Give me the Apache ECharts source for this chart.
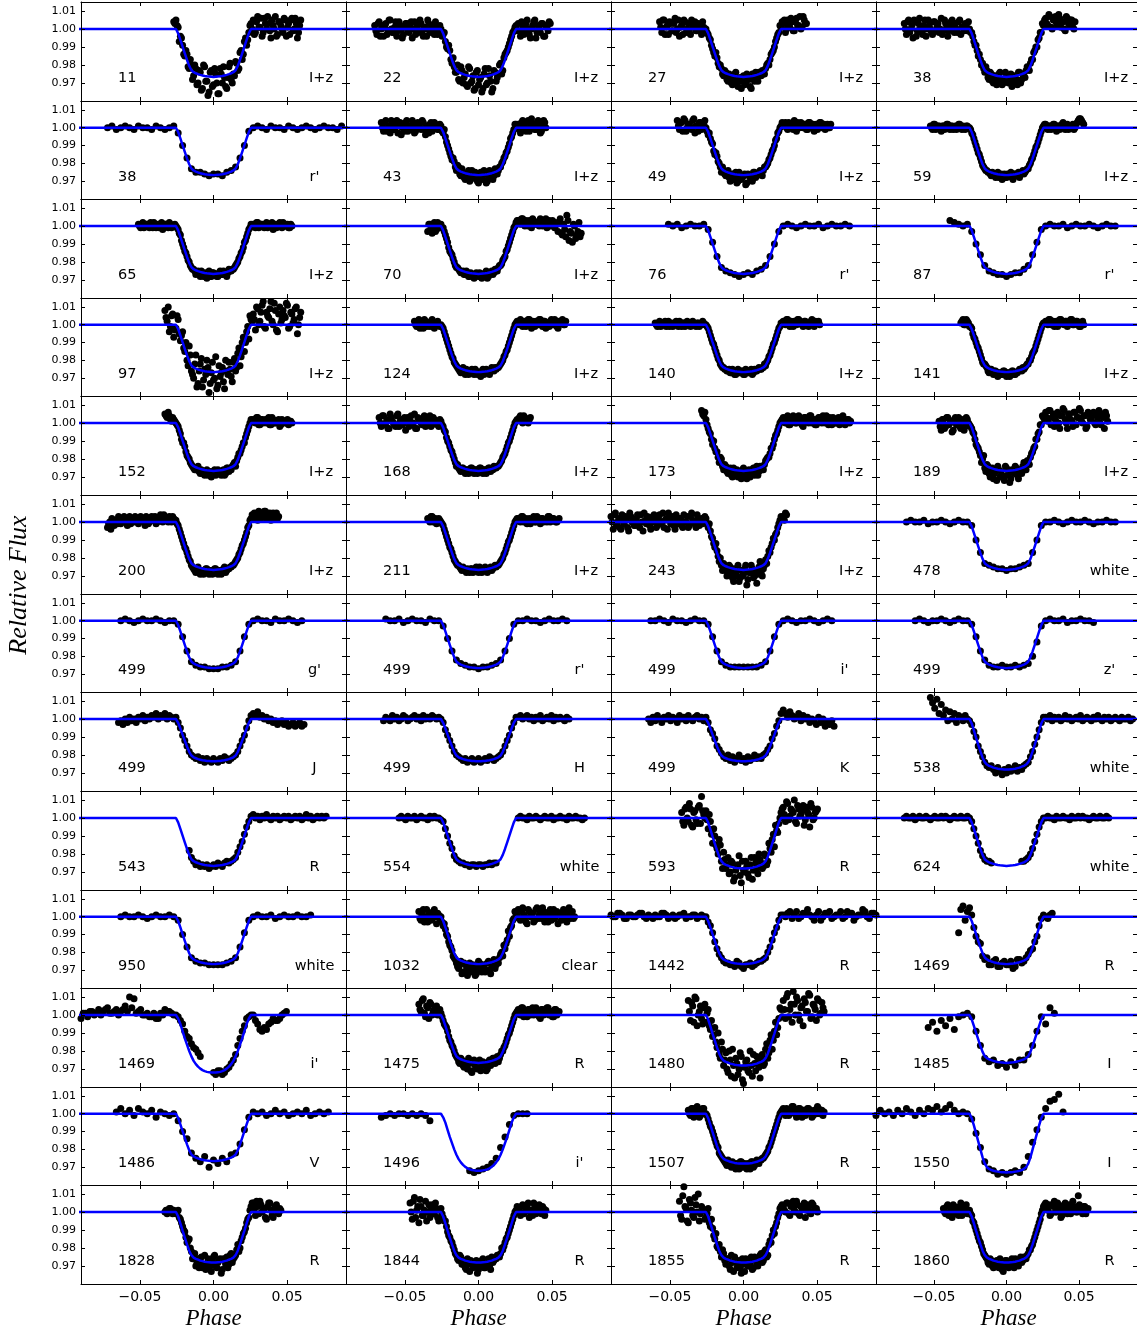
<!DOCTYPE html>
<html>
<head>
<meta charset="utf-8">
<script src="https://cdn.jsdelivr.net/npm/echarts@6/dist/echarts.min.js"></script>
<style>
  html, body { margin: 0; padding: 0; background: #fff; }
  #chart { width: 1137px; height: 1333px; }
</style>
</head>
<body>
<div id="chart"></div>
<script>
// Transit light curves, 13 rows x 4 columns, phase-folded.
const epochs = [11, 22, 27, 38, 38, 43, 49, 59, 65, 70, 76, 87, 97, 124, 140, 141,
  152, 168, 173, 189, 200, 211, 243, 478, 499, 499, 499, 499, 499, 499, 499, 538,
  543, 554, 593, 624, 950, 1032, 1442, 1469, 1469, 1475, 1480, 1485,
  1486, 1496, 1507, 1550, 1828, 1844, 1855, 1860];

const filters = ['I+z', 'I+z', 'I+z', 'I+z', "r'", 'I+z', 'I+z', 'I+z', 'I+z', 'I+z', "r'", "r'",
  'I+z', 'I+z', 'I+z', 'I+z', 'I+z', 'I+z', 'I+z', 'I+z', 'I+z', 'I+z', 'I+z', 'white',
  "g'", "r'", "i'", "z'", 'J', 'H', 'K', 'white', 'R', 'white', 'R', 'white',
  'white', 'clear', 'R', 'R', "i'", 'R', 'R', 'I', 'V', "i'", 'R', 'I', 'R', 'R', 'R', 'R'];

// sampling step in phase for each light curve
const phaseStep = [
  0.0015, 0.0015, 0.0015, 0.0015,
  0.003, 0.0015, 0.0015, 0.0015,
  0.0015, 0.0015, 0.003, 0.003,
  0.0015, 0.0015, 0.0015, 0.0015,
  0.0015, 0.0015, 0.0015, 0.0015,
  0.0015, 0.0015, 0.0015, 0.003,
  0.003, 0.003, 0.003, 0.003,
  0.0015, 0.0015, 0.0015, 0.0015,
  0.0015, 0.0015, 0.0015, 0.0015,
  0.003, 0.0015, 0.003, 0.003,
  0.003, 0.0015, 0.0015, 0.003,
  0.003, 0.003, 0.0015, 0.003,
  0.0015, 0.0015, 0.0015, 0.0015];

// which fitted transit model is drawn in each panel
const modelKey = [
  'A', 'A', 'A', 'A', 'A', 'A', 'A', 'A', 'A', 'A', 'A', 'A', 'A', 'A', 'A', 'A',
  'A', 'A', 'A', 'A', 'A', 'A', 'A', 'A', 'A', 'A', 'A', 'A', 'C', 'C', 'C', 'B',
  'A', 'A', 'B', 'A', 'A', 'A', 'A', 'A', 'D', 'A', 'B', 'A', 'A', 'D', 'B', 'E',
  'B', 'B', 'B', 'B'];

// Relative flux minus one, in parts per thousand (null = no exposure).
// fluxBefore ends at phase -0.027, fluxDuring is centred on phase 0, fluxAfter starts at +0.027.
const fluxBefore = [
  [4],
  [2,-3,4,0,-4,3,-1,5,-2,1,-4,4,0,-3,3,-1,2,-5,4,1,-2,3,-4,0,5,-2,2,-3,1,-1],
  [4,-2,5,1,-3,3,-1,6,0,-4,2,5,-2,3,-3,1,4,-1,2,-3,1],
  [3,-3,5,0,-5,4,-1,6,-2,2,-4,5,0,-3,4,1,-2,6,-1,3,-4,2,5,-2,0,4,-3,1,3,-1],
  [0,1,-1,0,1,0,-1,1,0,0,-1,1,0,-1,0,1],
  [3,-2,4,0,-3,2,-1,4,1,-4,2,3,-2,0,4,-3,1,2,-1,3,-4,0,2,-2,3,1,-1],
  [4,-1,3,5,-2,2,0,4,-3,1,3,-1,2],
  [1,-1,2,0,1,-2,1,0,2,-1,1,0,-1,2,0,1,-1,1],
  [1,-1,2,0,1,-1,0,2,-1,1,0,-2,1,0,2,-1,0],
  [-3,1,-4,2,-2,0],
  [1,0,1,-1,0,1,0,0,1],
  [3,2,1,0,1],
  [8,2,-4,5,-7],
  [2,-1,3,0,-2,2,1,-1,3,-2,1,0],
  [1,-1,2,0,1,-1,2,0,-1,1,0,2,-1,1,0,1,-1,2,0,1,-1,0,1],
  [1,3,0,2],
  [5,3,4,1,2],
  [3,-2,4,0,-3,5,1,-1,4,-2,2,0,-4,3,1,-1,5,-3,2,0,3,-2,1,4,-1,2,0,-2],
  [7,4],
  [1,-4,2,-2,3,0,-5,2,-1,3,-3,1,-2,2],
  [-3,0,2,-2,1,3,-1,2,0,-2,3,1,0,2,-1,3,1,-2,2,0,3,1,-1,2,4,0,2,1,3,0,2],
  [2,0,3,1,-1,2],
  [3,-4,5,0,-3,4,-1,2,-5,3,1,-2,4,-3,0,5,-1,2,-4,3,1,-2,4,0,-3,2,5,-1,3,-4,1,2,-2,4,0,-3,3,1,-1,4,-2,2,0],
  [0,1,0,0,1,-1,0,0,1,0,-1,0,1,0,0],
  [0,1,0,-1,0,1,0,0,1,0,-1,0,0],
  [1,0,0,1,-1,0,1,0,0,-1,1,0,0],
  [0,0,1,0,-1,1,0,0,-1,0,1,0,0],
  [0,1,0,-1,0,0,1,0,-1,0,1,0,0],
  [-2,-1,-3,0,-2,1,-1,0,-2,1,0,2,-1,1,0,2,1,3,0,2,1,3,0,2,1,0],
  [-1,1,0,-1,2,0,1,-1,0,2,1,-1,0,1,2,0,1,-1,2,0,1,0,2,1,0,1],
  [0,-2,1,-1,2,0,-2,1,0,2,-1,1,0,-2,2,0,1,-1,2,0,-1,1,2,0,1,-1],
  [12,9,6,11,3,8,2,5,-1,4,0,3,-2,2,1,-1,2,0],
  [],
  [0,1,0,-1,1,0,0,1,-1,0,1,0,0,-1,1,0,1,0,0],
  [3,-4,6,-2,5,-5,4,-3,7,12,2],
  [0,1,0,0,1,-1,0,1,0,0,1,0,-1,0,1,0,0,1,0,1,0,-1,0,1,0,0,1,0,0,1],
  [0,1,0,0,1,0,-1,0,1,0,0,1,0],
  [3,-2,4,0,-3,2,-1,4,-4,1],
  [1,0,2,-1,1,0,1,2,-1,0,1,0,2,-1,1,0,1,-1,0,1,0,0],
  [-9,6,3],
  [-2,1,2,0,3,2,4,1,3,2,5,10,9,2,0,1,-1,-2,1,3,2,0],
  [6,2,9,-1,4,7,0,3,5,1],
  [8,-3,5,10,-6,2,-2,4],
  [-7,-4,-9,-3,-6,-2,-8,-1,0,1],
  [1,3,0,2,-1,3,1,0,2,-2,1,0,-1,0],
  [-2,-1,0,-1,0,0,-1,0,-1,0,-1,-4,null,null],
  [2,-1,3,0,4,-2,1,3],
  [-1,2,0,1,-1,2,0,3,1,-1,2,0,3,2,4,1,3,5,2,0,1,0],
  [0,-1,2,0,1],
  [5,-4,8,1,-6,3,-2,6,0,-3,4,-1,2,-5],
  [6,-4,14,2,-6,5,-2,8,0,-5,3,1],
  [2,-1,4,0,-3,3,1,-2,5,0,2,-1]
];

const fluxDuring = [
  [5,1,-4,-9,-15,-14,-22,-20,-26,-22,-30,-24,-33,-21,-29,-35,-23,-31,-25,-36,-22,-30,-27,-33,-21,-28,-25,-18,-23,-13,-17,-7,-9,-2,3],
  [0,-3,-7,-11,-12,-19,-21,-24,-28,-21,-30,-25,-32,-22,-29,-34,-24,-31,-27,-33,-22,-30,-26,-35,-23,-29,-25,-19,-23,-14,-12,-8,-4,-1,2],
  [0,-3,-6,-11,-15,-16,-21,-22,-26,-24,-29,-27,-31,-25,-30,-28,-33,-26,-30,-27,-32,-25,-29,-27,-24,-26,-25,-22,-19,-17,-13,-10,-5,-2,1],
  [0,-2,-7,-9,-15,-17,-19,-24,-23,-28,-25,-30,-27,-29,-24,-31,-28,-26,-30,-25,-29,-27,-31,-24,-28,-26,-23,-22,-19,-17,-12,-10,-5,-2,2],
  [-3,-10,-17,-23,-25,-25,-26,-27,-26,-26,-27,-25,-24,-22,-17,-10,-2],
  [1,-3,-5,-10,-14,-18,-19,-24,-22,-27,-25,-29,-26,-30,-24,-28,-27,-31,-25,-29,-26,-30,-24,-28,-27,-25,-24,-22,-19,-16,-13,-9,-5,-1,2],
  [0,-4,-6,-9,-15,-16,-20,-25,-24,-27,-24,-30,-26,-28,-31,-25,-29,-27,-32,-26,-28,-30,-25,-27,-26,-25,-24,-22,-20,-17,-13,-10,-6,-2,1],
  [0,-3,-6,-10,-14,-17,-21,-23,-24,-25,-27,-26,-28,-25,-27,-29,-26,-28,-27,-25,-29,-26,-27,-28,-25,-26,-24,-23,-20,-17,-13,-10,-6,-2,1],
  [0,-2,-5,-10,-14,-17,-20,-23,-24,-27,-25,-28,-26,-27,-29,-25,-28,-26,-27,-28,-25,-27,-26,-28,-24,-25,-24,-22,-20,-17,-14,-9,-6,-2,1],
  [1,-1,-5,-9,-14,-16,-20,-23,-24,-26,-25,-27,-26,-28,-27,-29,-26,-28,-27,-28,-26,-29,-27,-25,-26,-25,-23,-22,-19,-17,-13,-9,-5,-1,2],
  [-2,-9,-17,-23,-25,-26,-27,-28,-27,-26,-27,-25,-24,-22,-17,-10,-3],
  [-3,-10,-16,-22,-25,-26,-27,-27,-28,-27,-26,-26,-24,-22,-16,-9,-2],
  [-2,3,-9,-4,-15,-20,-12,-26,-30,-17,-33,-22,-35,-25,-20,-38,-27,-31,-18,-34,-29,-24,-36,-26,-21,-29,-21,-26,-16,-23,-10,-15,-4,-8,3],
  [0,-2,-6,-10,-14,-18,-21,-23,-25,-27,-24,-28,-26,-27,-25,-28,-26,-27,-29,-25,-27,-26,-28,-24,-26,-25,-24,-22,-20,-17,-14,-10,-6,-2,1],
  [0,-2,-6,-10,-13,-17,-20,-23,-24,-25,-26,-27,-25,-28,-26,-27,-26,-28,-25,-27,-26,-28,-25,-26,-24,-25,-24,-23,-20,-17,-13,-10,-6,-2,1],
  [-1,-2,-7,-10,-13,-17,-21,-22,-24,-27,-25,-28,-26,-29,-27,-28,-26,-29,-27,-28,-26,-28,-27,-25,-26,-25,-23,-22,-20,-16,-14,-10,-6,-2,1],
  [0,-2,-6,-11,-13,-18,-20,-23,-25,-26,-24,-28,-27,-29,-26,-28,-30,-27,-29,-26,-28,-27,-29,-25,-27,-26,-23,-24,-19,-17,-13,-11,-6,-2,2],
  [1,-2,-5,-10,-13,-16,-20,-24,-25,-27,-25,-28,-26,-27,-25,-28,-26,-27,-25,-28,-26,-27,-25,-26,-24,-25,-24,-22,-19,-17,-13,-10,-6,-2,1],
  [2,-3,-6,-12,-14,-16,-22,-20,-26,-24,-28,-25,-30,-27,-26,-29,-31,-25,-28,-27,-30,-26,-29,-24,-27,-25,-26,-21,-19,-17,-14,-9,-6,-2,1],
  [-1,-3,-6,-12,-14,-18,-20,-25,-23,-28,-26,-31,-27,-24,-30,-29,-32,-25,-28,-31,-27,-24,-29,-26,-28,-22,-26,-21,-19,-16,-13,-9,-5,-1,3],
  [1,-2,-6,-10,-14,-17,-21,-24,-26,-28,-25,-29,-27,-28,-26,-29,-27,-28,-26,-29,-27,-28,-25,-27,-26,-25,-24,-22,-20,-17,-13,-10,-6,-2,2],
  [0,-2,-6,-10,-14,-17,-21,-23,-24,-26,-25,-27,-26,-28,-26,-27,-25,-28,-26,-27,-25,-28,-26,-27,-25,-25,-24,-22,-20,-17,-13,-10,-6,-2,1],
  [2,-3,-5,-9,-14,-16,-22,-24,-23,-27,-29,-25,-31,-26,-30,-33,-27,-29,-24,-32,-28,-26,-30,-34,-25,-28,-26,-21,-19,-17,-12,-10,-6,-1,3],
  [-2,-10,-17,-23,-24,-25,-26,-26,-27,-26,-26,-25,-24,-23,-17,-10,-2],
  [-2,-9,-17,-23,-25,-26,-26,-27,-27,-27,-26,-26,-25,-23,-17,-9,-2],
  [-3,-10,-17,-22,-24,-25,-26,-26,-27,-26,-26,-25,-24,-22,-17,-10,-2],
  [-2,-9,-17,-23,-25,-26,-26,-26,-26,-26,-26,-26,-25,-23,-17,-9,-2],
  [-2,-9,-17,-22,-25,-26,-26,-25,-26,-26,-25,-26,-25,-24,-20,-12,-3],
  [1,-2,-5,-9,-12,-15,-18,-20,-21,-22,-21,-23,-22,-24,-22,-23,-24,-22,-23,-24,-22,-23,-21,-22,-23,-22,-21,-20,-18,-15,-12,-9,-5,-1,2],
  [0,-2,-6,-9,-12,-15,-18,-20,-21,-22,-23,-22,-24,-23,-22,-24,-23,-22,-24,-23,-22,-23,-21,-22,-23,-22,-21,-20,-18,-15,-12,-9,-5,-2,1],
  [1,-2,-6,-8,-11,-15,-17,-19,-21,-22,-20,-23,-21,-24,-22,-20,-23,-22,-24,-21,-23,-22,-20,-22,-21,-22,-20,-19,-17,-15,-11,-8,-4,-1,3],
  [-1,-3,-7,-10,-15,-18,-21,-24,-26,-27,-26,-28,-30,-27,-29,-31,-28,-30,-27,-29,-28,-26,-29,-27,-28,-26,-25,-24,-21,-18,-14,-10,-6,-2,1],
  [null,null,null,null,null,null,-18,-22,-24,-26,-25,-27,-26,-27,-26,-28,-27,-26,-27,-25,-26,-27,-25,-24,-25,-24,-23,-22,-19,-16,-13,-9,-5,-2,1],
  [-1,-2,-6,-10,-14,-17,-21,-23,-24,-25,-25,-26,-26,-27,-26,-26,-27,-26,-26,-27,-26,-26,-25,-26,-25,-25,null,null,null,null,null,null,null,null,null],
  [4,-6,-2,-14,-10,-17,-12,-24,-19,-28,-22,-30,-25,-33,-27,-21,-36,-29,-24,-31,-26,-34,-22,-28,-20,-25,-27,-21,-24,-17,-12,-16,-7,-3,3],
  [0,-2,-6,-10,-14,-18,-21,-23,-24,-24,-25,null,null,null,null,null,null,null,null,null,null,null,null,null,-24,-24,-23,-22,-20,-17,-13,-9,-5,-2,0],
  [-2,-10,-17,-23,-25,-26,-26,-27,-27,-27,-27,-26,-25,-23,-17,-9,-2],
  [0,-5,-7,-11,-16,-19,-23,-26,-29,-25,-31,-27,-33,-26,-30,-28,-32,-25,-29,-27,-31,-26,-30,-28,-24,-27,-26,-21,-22,-18,-13,-11,-5,-1,2],
  [-3,-9,-18,-23,-26,-27,-28,-26,-29,-27,-28,-26,-25,-23,-17,-9,-2],
  [1,-11,-15,-24,-27,-25,-28,-26,-27,-25,-28,-24,-25,-21,-18,-11,-1],
  [-1,-5,-12,-16,-19,-23,null,null,-32,-31,-33,-30,-27,-22,-13,-6,-1],
  [1,-3,-6,-9,-14,-17,-20,-23,-26,-24,-28,-26,-30,-27,-32,-25,-29,-27,-31,-26,-28,-30,-25,-27,-24,-25,-26,-22,-20,-17,-13,-10,-6,-2,1],
  [-4,3,-8,-12,-7,-18,-22,-15,-28,-21,-32,-25,-19,-35,-27,-30,-23,-38,-26,-31,-20,-34,-27,-23,-29,-24,-28,-19,-24,-14,-19,-9,-11,-2,3],
  [-1,-9,-17,-24,-26,-25,-28,-27,-29,-26,-28,-25,-25,-22,-17,-9,-1],
  [-4,-10,-14,-22,-25,-27,-24,-30,-26,-28,-25,-27,-23,-22,-17,-9,-2],
  [null,null,null,null,null,null,-32,-33,-32,-31,-30,-28,-25,-19,-13,-6,-1],
  [0,-3,-7,-10,-14,-18,-22,-24,-26,-28,-26,-29,-27,-30,-28,-31,-27,-29,-30,-28,-31,-27,-29,-26,-28,-26,-25,-23,-21,-18,-14,-10,-6,-2,1],
  [-3,-11,-19,-27,-31,-32,-34,-33,-34,-33,-32,-33,-30,-24,-16,-9,-2],
  [-1,1,-4,-8,-11,-17,-15,-22,-24,-30,-26,-28,-31,-24,-29,-27,-33,-25,-30,-28,-26,-32,-27,-25,-29,-23,-26,-24,-18,-20,-14,-11,-6,-3,3],
  [2,-3,-5,-11,-14,-17,-21,-24,-27,-25,-29,-31,-26,-33,-28,-30,-27,-32,-29,-26,-31,-28,-30,-25,-27,-26,-24,-23,-21,-17,-14,-10,-6,-2,1],
  [-3,2,-8,-9,-15,-19,-18,-25,-23,-29,-26,-32,-28,-25,-31,-27,-34,-29,-26,-30,-28,-32,-25,-29,-27,-23,-27,-21,-24,-16,-13,-12,-6,-1,3],
  [1,-2,-6,-10,-14,-17,-21,-24,-26,-29,-27,-31,-28,-30,-26,-32,-29,-27,-31,-28,-30,-26,-29,-27,-28,-25,-26,-23,-21,-18,-14,-10,-6,-1,3]
];

const fluxAfter = [
  [5,-2,7,1,-4,6,0,3,-5,2,7,-3,4,0,6,-4,3,5,-1,6,-5,2],
  [3,-4,2,-1,5,-3,0,4,-5,2,-2,3,-4,1,4],
  [3,-2,5,1,4,-1,6,2,0,7,3],
  [6,2,7,0,5,3,8,1,4,-1,6,2,5,0],
  [0,1,0,-1,1,0,0,-1,1,0,-1,0,1,0,-1,0,1,0,0,-1,1],
  [2,-3,4,0,3,-2,5,1,-1,4,-3,2,3],
  [1,3,-1,2,0,4,-2,1,3,0,2,-1,3,1,-2,2,0,3,1,-1,2,0],
  [2,-1,1,0,2,-2,1,0,3,-1,2,0,1,-1,2,4,5,3],
  [1,-1,2,0,1,-1,2,0,1,-2,1,0,2,-1,1,0,-1,1],
  [3,1,4,0,2,3,-1,3,1,2,4,0,2,-1,3,1,0,2,-3,4,-5,-2,6,-8,-4,1,-7,-3,-6],
  [0,1,0,-1,0,1,0,0,1,-1,0,1,0,0,1,0],
  [0,1,0,0,1,-1,0,1,0,0,1,0,-1,0,1,0,0],
  [6,-3,9,2,11,-1,7,4,13,0,8,-4,10,3,5,12,-2,7,1,9,-5,4],
  [1,3,-1,2,0,3,-2,1,2,0,3,-1,2,1,-1,3,0,2,-2,1,3,0],
  [2,0,3,-1,1,2,0,3,1,-1,2,0,1,3,-1,1,2],
  [2,0,3,1,-1,2,0,3,1,2,-1,1,3,0,2,1,-1,2],
  [2,0,3,-1,2,1,0,3,-1,2,0,1,-2,2,1,0,-1,1],
  [2,4,0,3,1,2],
  [3,0,4,-1,2,3,0,4,1,-2,3,1,4,0,2,-1,3,1,4,0,2,3,-1,2,0,3,1,4,-1,2,0],
  [6,1,7,3,-2,5,0,4,8,2,-3,5,1,6,-1,3,7,0,4,-2,5,2,6,-1,3,0,5,-3,4],
  [2,4,1,5,3,6,2,4,1,5,3,2],
  [2,0,3,1,-1,2,1,3,0,2,-1,2,1,0,3,1,2,0,1],
  [3,5],
  [0,0,1,0,-1,0,1,0,0,1,0,-1,0,0,1,0,0],
  [0,1,0,0,-1,1,0,0,1,0,-1,0],
  [0,0,1,0,0,-1,0,1,0,0,1,0],
  [0,1,0,-1,0,0,1,0,-1,0,1,0],
  [0,1,0,0,1,-1,0,0,1,0,0,-1],
  [3,2,4,1,2,0,1,-1,0,-2,-1,-3,-2,-1,-3,-2,-4,-3,-2,-4,-3,-2,-4,-3],
  [1,2,0,1,2,0,1,-1,1,0,2,-1,0,1,0,2,-1,1,0,1,0,-1,1,0],
  [5,3,1,4,2,0,1,3,-1,2,0,1,-2,0,-1,-3,1,-2,0,-4,-2,-3,-1,-4],
  [1,0,2,-1,1,0,1,-1,0,2,0,1,-1,0,1,0,2,-1,0,1,0,-1,1,0,2,0,-1,1,0,1,-1,0,1,0,-1,1,0,0,1,-1,0],
  [2,0,1,-1,1,0,2,0,-1,1,0,1,-1,0,1,0,1,-1,0,1,0,1,-1,0,2,0,1,-1,0,1,0,1,0,1],
  [0,1,0,0,-1,1,0,0,1,0,-1,0,1,0,0,1,-1,0,0,1,0,0,-1,1,0,0,1,0,0,-1,0],
  [6,-2,8,1,4,10,-3,5,2,7,-1,3,-5,6,0,4],
  [0,1,0,0,-1,1,0,0,1,0,0,-1,1,0,0,1,0,1,0,0,-1,0,1,0,0,1,0,0,1,0],
  [0,1,0,0,1,-1,0,1,0,0,1,0,0,1],
  [4,-2,5,0,-4,3,1,-3,4,-1,2,5,-3,0,3,-2,4,1,-4,2,0,3,-3,5,1,-1],
  [1,2,-1,3,0,2,1,-2,3,0,2,-1,1,3,0,2,-2,1,4,0,2,1],
  [0,1],
  [0,-5,-9,-8,-4,-3,-2,1],
  [3,0,4,1,-1,3,2,0,4,1,-2,3,1,4,0,2,-1,3,1],
  [8,-2,12,3,-4,6,10,0,4,-6,7,2,11,-1,5,-3,8,1,4],
  [-5,4,1],
  [1,0,1,-1,0,2,0,1,-1,0,1,0,2,-1,0,1,0,1],
  [0,0,0],
  [3,-1,2,0,4,1,-2,3,0,2,-1,3,1,-2,2,0,3,1,-1],
  [3,7,8,11,1],
  [5,-2,3,6,0,2,-4,5,1,-3,3,0,2],
  [2,-2,4,0,3,-3,1,5,-1,2,0,3,-2],
  [3,0,5,-2,4,1,6,-1,3,2,-3,4,0,5,1,2],
  [5,1,-2,4,6,0,3,-3,2,5,-1,4,1,3,0,9,2,-1,3,1]
];

// Interleaved exposures (taken half a step later) for the densely sampled light curves.
const extraPanel = [0, 1, 2, 3, 5, 6, 7, 8, 9, 12, 13, 14, 15, 16, 17, 18, 19, 20, 21, 22,
  34, 37, 39, 41, 42, 46, 48, 49, 50, 51, 38, 40];

const extraBefore = [
  [3],
  [-1,3,-4,2,1,-3,5,0,-2,4,-1,2,-5,1,3,-2,4,0,-3,2,5,-1,1,-4,3,0,-2,4,-3,2],
  [1,5,-3,2,4,-1,3,-2,5,1,-3,4,0,-2,5,2,-1,3,0,4,-2],
  [0,4,-2,2,5,-4,3,1,-3,5,0,2,-2,4,-1,3,0,-3,5,1,-1,4,0,3,-2,5,1,-1,2,4],
  [0,3,-2,1,4,-1,2,-3,3,0,-2,4,1,-1,2,-2,3,0,4,-1,1,-3,3,0,2,-1,2],
  [1,3,-2,4,0,2,-1,5,1,-2,3,0,4],
  [0,2,-1,1,0,1,-1,2,0,1,-1,1,0,2,-1,0,1,0],
  [0,1,-1,1,0,2,-1,1,0,-1,2,0,1,-1,1,0,1],
  [1,-2,0,-3,2,-1],
  [4,10,-1,6,-3],
  [0,2,-2,1,3,-1,0,2,-1,1,2,-1],
  [0,1,-1,1,2,0,-1,1,0,2,-1,0,1,-1,2,0,1,0,-1,1,0,2,0],
  [2,0,3,1],
  [4,6,2,3,1],
  [0,4,-1,2,-3,3,0,-2,5,1,-1,3,2,-2,4,0,-3,3,1,-1,4,0,2,-2,3,1,-1,2],
  [5,6],
  [-2,2,-3,3,-1,1,-4,3,0,-2,2,-4,3,0],
  [-1,-4,1,0,-1,2,0,3,1,2,-1,2,3,0,1,2,0,3,-1,2,1,3,0,2,1,4,2,0,2,3,1],
  [1,3,0,2,0,1],
  [0,4,-2,2,-4,1,3,-3,5,0,-2,2,-1,4,-5,1,3,-2,0,4,-3,2,-1,5,1,-4,3,0,-2,4,-1,2,-3,0,3,-2,5,0,-3,2,1,-1,3],
  [-2,5,0,8,-4,3,-1,6,-3,4,0],
  [-1,2,-3,4,1,-2,3,0,2,-1],
  [4,-2,5],
  [3,8,1,5,-2,6,2,4,0,3],
  [2,7,-4,9,0,5,-5,6],
  [0,3,-2,2,1,-1,3,0],
  [1,0,2,-1,0],
  [0,6,-3,3,7,-2,1,-5,4,2,-1,5,-3,1],
  [-2,9,3,-5,7,1,-3,4,10,-1,2,-4],
  [0,3,-2,2,4,-1,1,3,-2,2,4,0],
  [0,2,1,-1,1,0,2,0,1,-1,0,2,1,0,-1,1,2,0,1,-1,1,0],
  [1,-1,2,1,0,3,1,2,0,3,2,4,1,3,0,-1,1,-2,0,2,1,0]
];

const extraDuring = [
  [2,-7,-5,-14,-12,-21,-17,-28,-20,-31,-23,-34,-20,-29,-37,-24,-32,-22,-30,-36,-25,-21,-32,-27,-19,-30,-26,-19,-22,-12,-14,-5,-6,2,0],
  [-4,-2,-10,-9,-17,-16,-24,-20,-29,-23,-27,-31,-21,-30,-26,-33,-23,-28,-35,-25,-31,-22,-29,-33,-24,-27,-20,-25,-16,-13,-10,-6,-2,1,-1],
  [-2,-5,-9,-13,-13,-19,-20,-25,-23,-28,-25,-30,-28,-24,-32,-27,-29,-31,-25,-28,-33,-27,-24,-29,-26,-23,-25,-20,-20,-14,-12,-7,-3,2,4],
  [-2,-4,-9,-12,-14,-20,-22,-21,-27,-24,-29,-26,-31,-25,-28,-30,-24,-29,-27,-32,-26,-28,-24,-30,-25,-27,-21,-23,-17,-13,-10,-6,-2,3,5],
  [-2,-1,-8,-12,-16,-17,-22,-21,-26,-23,-28,-27,-24,-29,-27,-25,-30,-26,-28,-24,-31,-27,-25,-29,-23,-26,-22,-20,-17,-14,-11,-6,-3,2,0],
  [-2,-3,-8,-13,-14,-19,-22,-22,-26,-25,-28,-27,-29,-25,-30,-27,-28,-26,-31,-27,-29,-25,-28,-26,-24,-27,-22,-21,-18,-15,-12,-7,-3,0,3],
  [-1,-4,-8,-12,-15,-19,-22,-24,-25,-26,-25,-27,-26,-28,-26,-27,-28,-26,-27,-28,-26,-27,-25,-26,-24,-25,-23,-21,-18,-15,-11,-8,-4,0,2],
  [-1,-4,-8,-12,-15,-19,-22,-24,-25,-26,-27,-25,-28,-26,-27,-28,-26,-27,-28,-26,-27,-25,-27,-26,-25,-24,-23,-21,-18,-15,-12,-8,-4,-1,0],
  [-1,-3,-7,-12,-15,-18,-22,-23,-25,-26,-27,-25,-28,-26,-27,-28,-27,-26,-29,-27,-25,-28,-26,-27,-24,-25,-22,-21,-18,-14,-11,-7,-3,0,3],
  [5,-5,-6,-13,-10,-23,-17,-28,-22,-35,-26,-19,-31,-28,-24,-33,-21,-30,-36,-23,-27,-32,-20,-28,-25,-32,-19,-24,-13,-18,-7,-10,-1,5,2],
  [-1,-4,-8,-12,-16,-19,-22,-24,-26,-25,-27,-25,-28,-26,-27,-25,-28,-27,-26,-28,-25,-27,-26,-25,-24,-24,-23,-21,-18,-15,-12,-8,-4,0,2],
  [-1,-4,-8,-11,-15,-19,-22,-24,-25,-26,-25,-27,-26,-28,-25,-27,-26,-28,-26,-27,-25,-27,-26,-25,-25,-24,-22,-21,-18,-15,-11,-8,-4,-1,1],
  [-1,-5,-8,-12,-15,-19,-22,-23,-26,-25,-27,-26,-28,-27,-28,-26,-28,-27,-29,-26,-28,-27,-26,-25,-24,-24,-22,-20,-18,-15,-12,-8,-4,0,1],
  [-1,-4,-9,-11,-16,-19,-22,-24,-26,-25,-27,-26,-28,-27,-29,-27,-28,-26,-28,-27,-29,-26,-28,-25,-26,-24,-22,-21,-17,-15,-11,-8,-4,0,1],
  [-1,-4,-8,-11,-15,-18,-22,-23,-26,-25,-27,-26,-28,-25,-27,-26,-28,-25,-27,-26,-28,-25,-27,-26,-25,-24,-23,-21,-18,-15,-11,-8,-4,0,2],
  [-1,-5,-9,-10,-16,-19,-19,-24,-23,-27,-26,-29,-25,-28,-30,-27,-26,-29,-31,-26,-28,-25,-27,-29,-24,-26,-23,-20,-19,-14,-12,-7,-4,0,2],
  [-2,-5,-9,-13,-16,-22,-18,-27,-24,-30,-25,-28,-32,-26,-27,-30,-24,-29,-33,-26,-28,-25,-31,-27,-24,-26,-21,-23,-17,-14,-9,-6,-1,4,2],
  [-1,-4,-8,-12,-15,-19,-22,-25,-27,-26,-28,-27,-29,-26,-28,-27,-29,-26,-28,-27,-29,-26,-28,-26,-25,-24,-23,-21,-18,-15,-12,-8,-3,1,4],
  [-1,-4,-8,-12,-15,-19,-22,-24,-25,-27,-26,-28,-27,-26,-28,-26,-27,-25,-28,-27,-26,-27,-25,-26,-24,-24,-23,-21,-18,-15,-11,-8,-4,0,2],
  [-1,-1,-8,-12,-12,-19,-20,-27,-26,-30,-24,-28,-33,-28,-24,-31,-30,-26,-35,-28,-24,-31,-27,-29,-22,-30,-24,-23,-16,-14,-9,-7,-3,1,2],
  [-1,2,-9,-6,-15,-20,-15,-28,-23,-26,-31,-24,-35,-29,-26,-32,-24,-30,-27,-33,-22,-29,-25,-31,-23,-28,-20,-26,-14,-19,-9,-4,-8,0,5],
  [-3,-4,-10,-14,-17,-22,-24,-28,-27,-32,-26,-30,-28,-31,-27,-33,-29,-26,-31,-28,-30,-25,-32,-27,-29,-25,-23,-20,-16,-15,-8,-6,-2,3,1],
  [-6,-14,-22,-23,-27,-24,-28,-25,-27,-29,-24,-26,-23,-19,-14,-5,1],
  [-1,-5,-7,-12,-15,-18,-22,-24,-27,-25,-29,-28,-24,-31,-26,-28,-30,-25,-28,-27,-31,-26,-28,-24,-27,-23,-24,-20,-18,-15,-11,-8,-4,0,2],
  [1,-6,-3,-11,-15,-10,-24,-19,-25,-30,-20,-34,-28,-24,-33,-21,-36,-29,-25,-32,-28,-22,-31,-26,-35,-22,-27,-16,-21,-11,-14,-4,-7,4,-1],
  [-1,-5,-8,-12,-16,-19,-23,-25,-27,-29,-27,-30,-28,-31,-29,-27,-30,-28,-31,-29,-27,-30,-28,-27,-26,-25,-24,-22,-19,-16,-12,-8,-4,0,2],
  [0,-3,-6,-10,-14,-16,-20,-26,-23,-28,-31,-25,-29,-32,-26,-30,-28,-24,-31,-27,-34,-26,-29,-31,-24,-28,-25,-21,-22,-16,-12,-9,-4,1,5],
  [-1,-5,-8,-13,-16,-19,-23,-26,-24,-29,-27,-32,-29,-27,-31,-28,-34,-29,-27,-31,-28,-26,-32,-28,-26,-24,-25,-20,-19,-15,-12,-8,-4,0,3],
  [-1,-6,-4,-13,-12,-20,-22,-21,-27,-26,-30,-24,-33,-27,-29,-31,-26,-33,-28,-30,-25,-31,-27,-30,-24,-28,-22,-25,-18,-17,-10,-8,-3,2,4],
  [-1,-5,-8,-12,-16,-19,-23,-25,-28,-26,-30,-29,-27,-31,-28,-33,-27,-30,-29,-26,-31,-28,-30,-25,-27,-26,-24,-21,-19,-16,-12,-8,-4,1,4],
  [-5,-14,-21,-25,-26,-27,-25,-28,-27,-26,-27,-25,-24,-20,-13,-6,1],
  [-3,-9,-13,-18,-21,null,null,null,-33,-31,-32,-29,-25,-17,-9,-2,0]
];

const extraAfter = [
  [-3,4,1,6,-2,3,7,-1,5,0,-4,4,2,-2,5,1,-3,6,0,3,-2,5],
  [-1,4,-3,3,0,-5,2,5,-2,1,3,-4,2,-1,3],
  [5,0,3,6,-1,4,2,7,1,5,3],
  [3,8,1,5,7,2,6,4,0,7,3,5,1,4],
  [-1,3,1,-2,4,0,2,-1,3,1,-2,4,0],
  [2,0,3,1,-1,2,3,0,1,2,-1,3,0,2,1,-1,3,0,2,1,0,2],
  [0,1,-1,2,0,1,-1,2,1,0,-1,1,2,0,3,5,4,2],
  [0,2,-1,1,0,1,-1,1,2,0,-1,1,0,2,0,1,-1,0],
  [2,4,1,3,0,2,4,1,2,0,3,1,4,2,0,3,-1,1,2,-4,1,-6,3,-3,-9,0,-5,2,-4],
  [3,10,0,7,13,-2,5,9,2,12,-3,6,1,8,4,11,-1,6,3,10,0,7],
  [0,2,1,-1,3,0,2,-1,1,3,0,2,-2,1,2,0,3,-1,2,1,0,2],
  [1,3,0,2,-1,1,3,1,0,2,1,-1,2,0,2,1,0],
  [1,3,0,2,1,-1,3,1,0,2,1,3,0,1,2,-1,1,0],
  [1,3,-1,2,0,2,1,-1,3,0,1,2,-1,1,0,2,1,0],
  [3,1,4,2,0,3],
  [1,3,-1,2,4,0,3,1,-1,3,2,0,4,1,-1,2,3,0,2,4,-1,1,3,0,2,-1,3,1,0,2,1],
  [3,7,-1,5,2,6,-3,4,7,0,5,2,-2,6,3,8,1,4,-3,6,2,5,0,4,7,-1,3,6,1],
  [5,3,6,2,4,6,3,5,4,2,5,3],
  [1,3,0,2,1,-1,2,0,3,1,2,0,1,3,0,2,1,0,2],
  [1,4],
  [2,9,-1,5,3,-2,7,1,4,-4,6,2,8,-1,3,5],
  [-1,3,1,-3,4,0,2,-2,5,1,-1,3,0,-3,4,2,-1,3,1,-2,4,0,2,-1,3,0],
  [-1,2],
  [1,4,-1,2,3,0,4,1,2,-1,3,0,2,4,1,-1,3,0,2],
  [3,10,-1,6,13,0,8,-3,5,9,2,12,-2,6,3,9,0,7,2],
  [1,3,-1,2,4,0,1,3,-2,2,0,3,1,-1,2,4,0,2,1],
  [2,6,-1,4,1,-3,3,5,-2,2,4,-1,1],
  [0,3,-1,2,5,0,-2,3,1,4,-1,2,1],
  [1,5,-1,3,6,0,4,-2,2,5,1,3,-1,4,2,0],
  [2,4,-1,3,0,5,2,-2,4,1,3,-1,6,2,0,4,1,3,-1,2],
  [0,3,1,-1,2,4,0,1,-2,2,3,0,1,-1,3,2,0,1,3,-1,2,0],
  [-3,-8,-7,-5,-2,-3,0,2]
];

// Fitted transit models (flux minus one, ppt) on a common phase grid
const modelPhase = [-0.1, -0.0255, -0.024, -0.0225, -0.021, -0.0195, -0.018, -0.0165, -0.015, -0.0135,
  -0.012, -0.0105, -0.009, -0.0075, -0.006, -0.0045, -0.003, -0.0015, 0, 0.0015, 0.003, 0.0045,
  0.006, 0.0075, 0.009, 0.0105, 0.012, 0.0135, 0.015, 0.0165, 0.018, 0.0195, 0.021, 0.0225, 0.024, 0.0255, 0.1];
const modelA = [0, 0, -2.4, -6, -9.8, -13.5, -17.2, -20.5, -22.9, -24, -24.6, -25.1, -25.5, -25.8, -26.1, -26.3, -26.4, -26.5,
  -26.6, -26.5, -26.4, -26.3, -26.1, -25.8, -25.5, -25.1, -24.6, -24, -22.9, -20.5, -17.2, -13.5, -9.8, -6, -2.4, 0, 0];
const modelB = [0, 0, -2.5, -6.3, -10.3, -14.2, -18, -21.5, -24, -25.3, -26, -26.5, -27, -27.3, -27.6, -27.8, -27.9, -28,
  -28, -28, -27.9, -27.8, -27.6, -27.3, -27, -26.5, -26, -25.3, -24, -21.5, -18, -14.2, -10.3, -6.3, -2.5, 0, 0];
const modelC = [0, 0, -2.1, -5.3, -8.7, -12, -15.3, -18.2, -20.3, -21.3, -21.8, -22.3, -22.6, -22.9, -23.1, -23.3, -23.4, -23.5,
  -23.5, -23.5, -23.4, -23.3, -23.1, -22.9, -22.6, -22.3, -21.8, -21.3, -20.3, -18.2, -15.3, -12, -8.7, -5.3, -2.1, 0, 0];
const modelD = [0, 0, -2, -5, -9, -13, -16.5, -20, -23, -25.5, -27.3, -28.7, -29.8, -30.6, -31.2, -31.6, -31.8, -32,
  -32, -32, -31.8, -31.6, -31.2, -30.6, -29.8, -28.7, -27.3, -25.5, -23, -20, -16.5, -13, -9, -5, -2, 0, 0];
const modelE = [0, 0, -2.5, -6.5, -11, -15.5, -20, -24.5, -28, -30, -31, -31.6, -32, -32.3, -32.5, -32.7, -32.8, -32.9,
  -33, -32.9, -32.8, -32.7, -32.5, -32.3, -32, -31.6, -31, -30, -28, -24.5, -20, -15.5, -11, -6.5, -2.5, 0, 0];

const xTickValues = [-0.05, 0, 0.05];
const yTickValues = [0.97, 0.98, 0.99, 1.00, 1.01];

const models = { A: modelA, B: modelB, C: modelC, D: modelD, E: modelE };
const NROWS = 13, NCOLS = 4;
const LEFT0 = 81, COLW = 265, TOP0 = 2, BOTTOM = 1284;
const ROWH = (BOTTOM - TOP0) / NROWS;
const EDGE = 0.027;

function toFlux(v) { return 1 + v / 1000; }

// place one set of exposures on the phase axis; offset shifts the whole set
function placeSamples(pts, b, d, a, s, offset) {
  b.forEach((v, j) => { if (v !== null) pts.push([-EDGE - (b.length - 1 - j) * s + offset, toFlux(v)]); });
  d.forEach((v, j) => { if (v !== null) pts.push([(j - (d.length - 1) / 2) * s + offset, toFlux(v)]); });
  a.forEach((v, j) => { if (v !== null) pts.push([EDGE + j * s + offset, toFlux(v)]); });
}

function observations(i) {
  const s = phaseStep[i];
  const pts = [];
  placeSamples(pts, fluxBefore[i], fluxDuring[i], fluxAfter[i], s, 0);
  const e = extraPanel.indexOf(i);
  if (e >= 0) placeSamples(pts, extraBefore[e], extraDuring[e], extraAfter[e], s, s / 2);
  return pts;
}

function modelCurve(i) {
  const m = models[modelKey[i]];
  return modelPhase.map((p, j) => [p, toFlux(m[j])]);
}

const fmtX = v => (v < 0 ? '\u2212' : '') + Math.abs(v).toFixed(2);
const fmtY = v => v.toFixed(2);
const frame = { show: true, onZero: false, lineStyle: { color: '#000', width: 1 } };
const tick = vals => ({ show: true, inside: true, length: 4, customValues: vals, lineStyle: { color: '#000', width: 1 } });

const grids = [], xAxes = [], yAxes = [], series = [], graphics = [];

for (let i = 0; i < epochs.length; i++) {
  const r = Math.floor(i / NCOLS), c = i % NCOLS;
  const left = LEFT0 + c * COLW;
  const top = Math.round(TOP0 + r * ROWH);
  const bottom = Math.round(TOP0 + (r + 1) * ROWH);
  grids.push({ left: left, top: top, width: COLW, height: bottom - top });

  const xBase = { gridIndex: i, type: 'value', min: -0.09, max: 0.09, splitLine: { show: false }, axisLine: frame, z: 5 };
  xAxes.push(Object.assign({}, xBase, {
    position: 'bottom', axisTick: tick(xTickValues),
    axisLabel: { show: r === NROWS - 1, customValues: xTickValues, formatter: fmtX, fontSize: 14,
      fontFamily: 'DejaVu Sans', color: '#000', margin: 6 }
  }));
  xAxes.push(Object.assign({}, xBase, { position: 'top', axisTick: tick(xTickValues), axisLabel: { show: false } }));

  const yBase = { gridIndex: i, type: 'value', min: 0.96, max: 1.015, splitLine: { show: false }, axisLine: frame, z: 5 };
  yAxes.push(Object.assign({}, yBase, {
    position: 'left', axisTick: tick(yTickValues),
    axisLabel: { show: c === 0, customValues: yTickValues, formatter: fmtY, fontSize: 11,
      fontFamily: 'DejaVu Sans', color: '#000', margin: 5 }
  }));
  yAxes.push(Object.assign({}, yBase, { position: 'right', axisTick: tick(yTickValues), axisLabel: { show: false } }));

  series.push({
    type: 'scatter', xAxisIndex: 2 * i, yAxisIndex: 2 * i, data: observations(i),
    symbol: 'circle', symbolSize: 7, itemStyle: { color: '#000', opacity: 1 }, silent: true, z: 2
  });
  series.push({
    type: 'line', xAxisIndex: 2 * i, yAxisIndex: 2 * i, data: modelCurve(i),
    showSymbol: false, clip: true, silent: true, z: 3,
    lineStyle: { color: '#0000ff', width: 2.5 }
  });

  graphics.push({
    type: 'text', x: left + 37, y: top + 76, silent: true,
    style: { text: String(epochs[i]), fill: '#000', font: '14.5px "DejaVu Sans"',
      textAlign: 'left', textVerticalAlign: 'middle', align: 'left', verticalAlign: 'middle' }
  });
  const fx = left + 233.5 + (filters[i] === 'I+z' ? 6.5 : 0);
  graphics.push({
    type: 'text', x: fx, y: top + 76, silent: true,
    style: { text: filters[i], fill: '#000', font: '14.5px "DejaVu Sans"',
      textAlign: 'center', textVerticalAlign: 'middle', align: 'center', verticalAlign: 'middle' }
  });
}

for (let c = 0; c < NCOLS; c++) {
  graphics.push({
    type: 'text', x: LEFT0 + c * COLW + COLW / 2, y: 1319, silent: true,
    style: { text: 'Phase', fill: '#000', font: 'italic 23px "Liberation Serif"',
      textAlign: 'center', textVerticalAlign: 'middle', align: 'center', verticalAlign: 'middle' }
  });
}
graphics.push({
  type: 'text', x: 19, y: 585, rotation: Math.PI / 2, silent: true,
  style: { text: 'Relative Flux', fill: '#000', font: 'italic 26px "Liberation Serif"',
    textAlign: 'center', textVerticalAlign: 'middle', align: 'center', verticalAlign: 'middle' }
});

const chart = echarts.init(document.getElementById('chart'), null, { renderer: 'canvas' });
chart.setOption({
  animation: false,
  backgroundColor: '#fff',
  grid: grids,
  xAxis: xAxes,
  yAxis: yAxes,
  series: series,
  graphic: { elements: graphics }
});
</script>
</body>
</html>
